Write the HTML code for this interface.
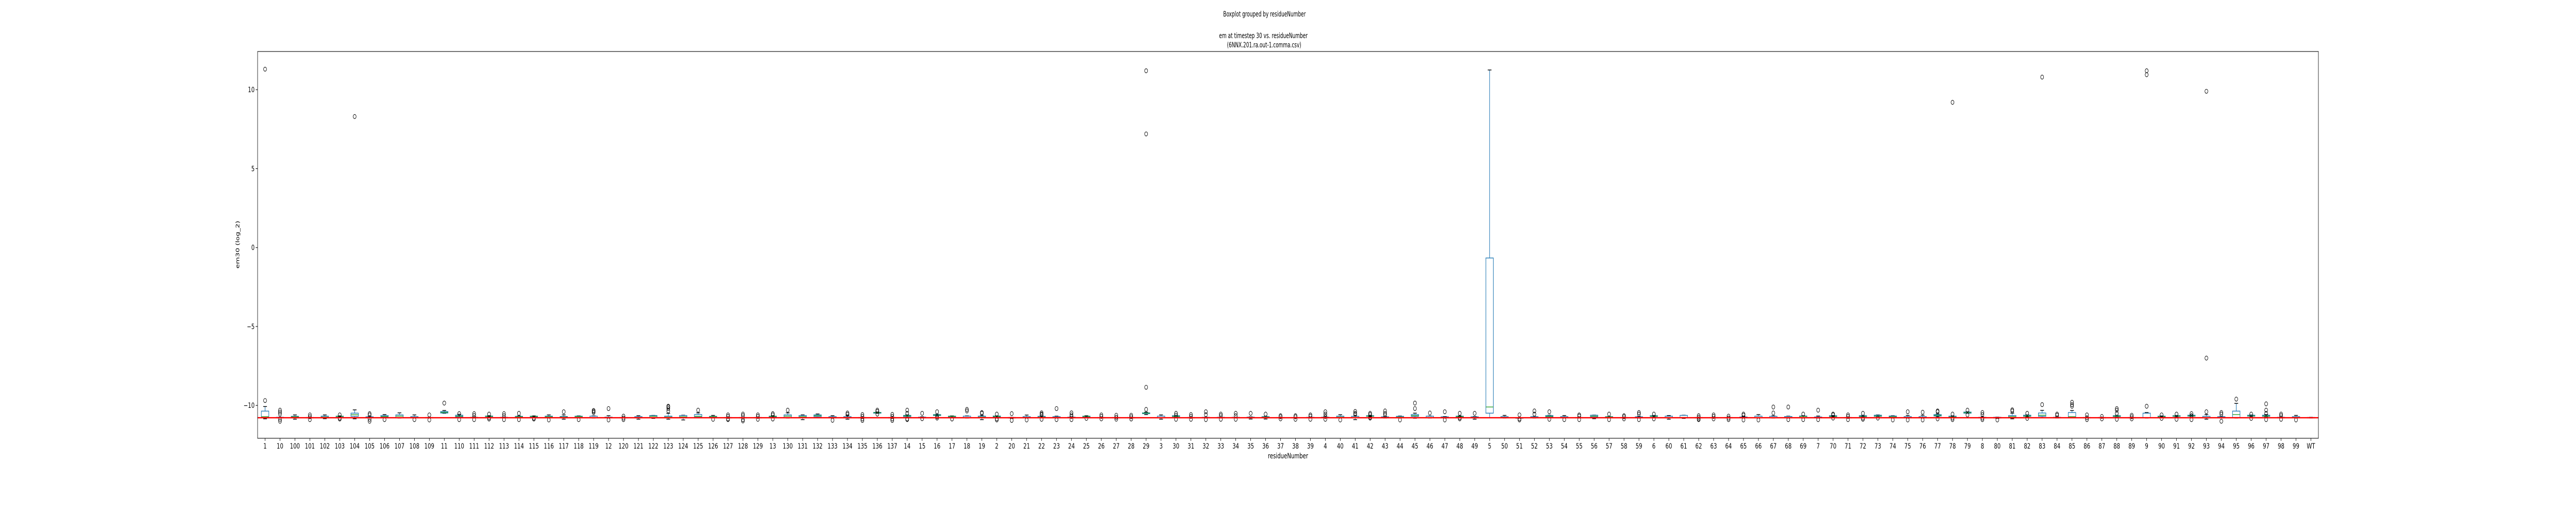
<!DOCTYPE html>
<html><head><meta charset="utf-8"><title>Boxplot grouped by residueNumber</title>
<style>
html,body{margin:0;padding:0;background:#fff;width:100%;height:100%;overflow:hidden;}
svg{display:block;font-family:"DejaVu Sans","Liberation Sans",sans-serif;width:100vw;height:100vh;}
</style></head>
<body>
<svg id="chart" viewBox="0 0 6900 1000" preserveAspectRatio="none" xmlns="http://www.w3.org/2000/svg">
<rect x="0" y="0" width="6900" height="1000" fill="#fff"/>
<text x="3387" y="32" font-size="14" text-anchor="middle" textLength="221" lengthAdjust="spacingAndGlyphs">Boxplot grouped by residueNumber</text>
<text x="3384" y="74" font-size="14" text-anchor="middle" textLength="237" lengthAdjust="spacingAndGlyphs">em at timestep 30 vs. residueNumber</text>
<text x="3386" y="92" font-size="14" text-anchor="middle" textLength="199" lengthAdjust="spacingAndGlyphs">(6NNX.201.ra.out-1.comma.csv)</text>
<g id="plot"></g>
<text x="3450" y="890" font-size="14" text-anchor="middle">residueNumber</text>
<text x="0" y="0" font-size="14" text-anchor="middle" transform="translate(641,475) rotate(-90)">em30 (log_2)</text>
</svg>
<script>
const categories = ["1","10","100","101","102","103","104","105","106","107","108","109","11","110","111","112","113","114","115","116","117","118","119","12","120","121","122","123","124","125","126","127","128","129","13","130","131","132","133","134","135","136","137","14","15","16","17","18","19","2","20","21","22","23","24","25","26","27","28","29","3","30","31","32","33","34","35","36","37","38","39","4","40","41","42","43","44","45","46","47","48","49","5","50","51","52","53","54","55","56","57","58","59","6","60","61","62","63","64","65","66","67","68","69","7","70","71","72","73","74","75","76","77","78","79","8","80","81","82","83","84","85","86","87","88","89","9","90","91","92","93","94","95","96","97","98","99","WT"];
// [q1, median, q3, whiskerLow, whiskerHigh]
const boxStats = [
[-10.76,-10.71,-10.36,-10.85,-10.07],[-10.79,-10.77,-10.75,-10.8,-10.74],[-10.76,-10.72,-10.69,-10.87,-10.6],[-10.79,-10.77,-10.76,-10.8,-10.75],[-10.76,-10.74,-10.68,-10.84,-10.6],
[-10.71,-10.69,-10.68,-10.72,-10.66],[-10.69,-10.59,-10.49,-10.85,-10.28],[-10.78,-10.76,-10.72,-10.8,-10.7],[-10.72,-10.7,-10.64,-10.76,-10.58],[-10.78,-10.68,-10.6,-10.8,-10.47],
[-10.78,-10.76,-10.71,-10.8,-10.6],[-10.79,-10.77,-10.76,-10.8,-10.75],[-10.48,-10.44,-10.39,-10.5,-10.32],[-10.72,-10.68,-10.62,-10.76,-10.56],[-10.79,-10.76,-10.75,-10.8,-10.72],
[-10.71,-10.69,-10.67,-10.73,-10.65],[-10.79,-10.77,-10.75,-10.8,-10.73],[-10.76,-10.72,-10.69,-10.78,-10.66],[-10.72,-10.69,-10.68,-10.76,-10.66],[-10.76,-10.72,-10.68,-10.78,-10.6],
[-10.78,-10.74,-10.7,-10.87,-10.6],[-10.75,-10.7,-10.68,-10.76,-10.66],[-10.78,-10.77,-10.68,-10.8,-10.66],[-10.78,-10.76,-10.74,-10.8,-10.65],[-10.79,-10.77,-10.76,-10.8,-10.75],
[-10.78,-10.76,-10.71,-10.87,-10.65],[-10.78,-10.69,-10.64,-10.82,-10.63],[-10.76,-10.74,-10.68,-10.87,-10.5],[-10.76,-10.72,-10.64,-10.92,-10.62],[-10.74,-10.69,-10.58,-10.76,-10.47],
[-10.72,-10.7,-10.69,-10.76,-10.63],[-10.79,-10.77,-10.76,-10.8,-10.75],[-10.79,-10.77,-10.76,-10.8,-10.75],[-10.79,-10.77,-10.76,-10.8,-10.75],[-10.72,-10.69,-10.68,-10.75,-10.66],
[-10.76,-10.68,-10.6,-10.8,-10.47],[-10.76,-10.71,-10.64,-10.9,-10.6],[-10.71,-10.65,-10.6,-10.76,-10.54],[-10.78,-10.76,-10.71,-10.8,-10.65],[-10.78,-10.76,-10.71,-10.87,-10.63],
[-10.79,-10.77,-10.76,-10.8,-10.75],[-10.49,-10.46,-10.44,-10.5,-10.42],[-10.79,-10.77,-10.76,-10.8,-10.75],[-10.71,-10.66,-10.63,-10.73,-10.6],[-10.78,-10.77,-10.74,-10.8,-10.72],
[-10.64,-10.61,-10.58,-10.65,-10.56],[-10.72,-10.69,-10.68,-10.75,-10.66],[-10.78,-10.77,-10.68,-10.8,-10.66],[-10.76,-10.74,-10.68,-10.9,-10.65],[-10.72,-10.69,-10.67,-10.74,-10.66],
[-10.8,-10.78,-10.76,-10.82,-10.75],[-10.78,-10.76,-10.71,-10.8,-10.61],[-10.76,-10.74,-10.69,-10.78,-10.67],[-10.78,-10.76,-10.71,-10.8,-10.68],[-10.78,-10.76,-10.74,-10.8,-10.72],
[-10.72,-10.69,-10.68,-10.76,-10.65],[-10.79,-10.77,-10.76,-10.8,-10.75],[-10.79,-10.77,-10.76,-10.8,-10.75],[-10.79,-10.77,-10.76,-10.8,-10.75],[-10.52,-10.49,-10.47,-10.58,-10.43],
[-10.78,-10.77,-10.68,-10.87,-10.6],[-10.71,-10.69,-10.65,-10.73,-10.64],[-10.79,-10.77,-10.76,-10.8,-10.75],[-10.79,-10.77,-10.75,-10.8,-10.74],[-10.79,-10.77,-10.75,-10.8,-10.74],
[-10.79,-10.77,-10.75,-10.8,-10.74],[-10.78,-10.76,-10.74,-10.86,-10.72],[-10.75,-10.74,-10.71,-10.86,-10.69],[-10.79,-10.77,-10.76,-10.8,-10.75],[-10.79,-10.77,-10.76,-10.8,-10.75],
[-10.79,-10.77,-10.75,-10.8,-10.74],[-10.78,-10.76,-10.74,-10.8,-10.72],[-10.76,-10.74,-10.68,-10.78,-10.59],[-10.78,-10.76,-10.69,-10.9,-10.67],[-10.69,-10.68,-10.65,-10.72,-10.63],
[-10.78,-10.76,-10.72,-10.8,-10.7],[-10.76,-10.74,-10.69,-10.78,-10.67],[-10.69,-10.65,-10.58,-10.81,-10.49],[-10.78,-10.76,-10.68,-10.8,-10.67],[-10.78,-10.76,-10.72,-10.8,-10.7],
[-10.72,-10.7,-10.68,-10.75,-10.66],[-10.78,-10.76,-10.72,-10.87,-10.7],[-10.49,-10.1,-0.66,-10.78,11.25],[-10.78,-10.76,-10.71,-10.8,-10.63],[-10.8,-10.79,-10.78,-10.81,-10.77],
[-10.78,-10.76,-10.71,-10.8,-10.7],[-10.72,-10.69,-10.64,-10.74,-10.62],[-10.78,-10.76,-10.71,-10.8,-10.64],[-10.79,-10.77,-10.76,-10.8,-10.75],[-10.73,-10.68,-10.62,-10.84,-10.61],
[-10.76,-10.73,-10.71,-10.78,-10.7],[-10.79,-10.77,-10.76,-10.8,-10.75],[-10.78,-10.76,-10.72,-10.8,-10.7],[-10.7,-10.68,-10.65,-10.74,-10.63],[-10.78,-10.76,-10.68,-10.87,-10.64],
[-10.78,-10.76,-10.63,-10.82,-10.62],[-10.79,-10.77,-10.76,-10.8,-10.75],[-10.79,-10.77,-10.76,-10.8,-10.75],[-10.79,-10.77,-10.76,-10.8,-10.75],[-10.78,-10.77,-10.73,-10.8,-10.7],
[-10.78,-10.76,-10.68,-10.8,-10.58],[-10.78,-10.77,-10.69,-10.8,-10.66],[-10.78,-10.76,-10.7,-10.8,-10.68],[-10.78,-10.7,-10.67,-10.8,-10.65],[-10.78,-10.77,-10.73,-10.8,-10.67],
[-10.71,-10.69,-10.65,-10.73,-10.63],[-10.79,-10.77,-10.76,-10.8,-10.75],[-10.71,-10.69,-10.65,-10.73,-10.63],[-10.69,-10.67,-10.62,-10.7,-10.6],[-10.76,-10.72,-10.67,-10.78,-10.65],
[-10.78,-10.76,-10.71,-10.8,-10.63],[-10.78,-10.76,-10.71,-10.8,-10.62],[-10.67,-10.63,-10.58,-10.7,-10.55],[-10.76,-10.73,-10.68,-10.78,-10.66],[-10.49,-10.46,-10.42,-10.5,-10.4],
[-10.79,-10.77,-10.75,-10.8,-10.74],[-10.8,-10.79,-10.75,-10.82,-10.74],[-10.76,-10.71,-10.64,-10.85,-10.49],[-10.69,-10.67,-10.62,-10.72,-10.6],[-10.69,-10.62,-10.48,-10.76,-10.31],
[-10.79,-10.77,-10.75,-10.8,-10.73],[-10.76,-10.71,-10.45,-10.78,-10.32],[-10.79,-10.77,-10.76,-10.8,-10.75],[-10.79,-10.77,-10.76,-10.8,-10.75],[-10.7,-10.68,-10.65,-10.72,-10.63],
[-10.79,-10.77,-10.76,-10.8,-10.75],[-10.78,-10.77,-10.49,-10.8,-10.45],[-10.72,-10.7,-10.68,-10.74,-10.66],[-10.69,-10.67,-10.65,-10.72,-10.63],[-10.68,-10.66,-10.62,-10.7,-10.6],
[-10.78,-10.76,-10.69,-10.87,-10.58],[-10.78,-10.76,-10.71,-10.8,-10.69],[-10.76,-10.58,-10.36,-10.8,-9.87],[-10.68,-10.66,-10.62,-10.7,-10.6],[-10.69,-10.67,-10.62,-10.72,-10.58],
[-10.79,-10.77,-10.75,-10.8,-10.73],[-10.78,-10.76,-10.71,-10.8,-10.63],[-10.79,-10.78,-10.76,-10.8,-10.75]
];
const fliers = [
[-9.69,11.3],[-10.3,-10.42,-10.55,-10.88,-11.0],[],[-10.6,-10.72,-10.9],[],
[-10.6,-10.8,-10.86],[8.3],[-10.52,-10.6,-10.88,-11.0],[-10.9],[],
[-10.9],[-10.6,-10.92],[-9.85],[-10.52,-10.9],[-10.52,-10.64,-10.9],
[-10.55,-10.78,-10.86],[-10.52,-10.65,-10.9],[-10.5,-10.9],[-10.8,-10.86],[-10.92],
[-10.4],[-10.9],[-10.32,-10.38,-10.45],[-10.2,-10.92],[-10.68,-10.8,-10.9],
[],[],[-10.35,-10.2,-10.1,-10.05],[],[-10.3],
[-10.88],[-10.6,-10.7,-10.85,-10.9],[-10.55,-10.65,-10.9,-10.98],[-10.6,-10.7,-10.88],[-10.52,-10.6,-10.86],
[-10.3],[],[],[-10.94],[-10.48,-10.56],
[-10.58,-10.7,-10.85,-10.95],[-10.3,-10.38,-10.55],[-10.57,-10.7,-10.85,-10.95],[-10.3,-10.5,-10.85,-10.9],[-10.5,-10.84],
[-10.4,-10.72,-10.8],[-10.86],[-10.25,-10.35],[-10.45,-10.5],[-10.55,-10.85,-10.92],
[-10.52,-10.95],[-10.92],[-10.47,-10.55,-10.6,-10.88],[-10.2,-10.9],[-10.47,-10.6,-10.7,-10.9],
[-10.82],[-10.6,-10.7,-10.85],[-10.62,-10.75,-10.87],[-10.62,-10.72,-10.86],[-10.25,-8.85,7.2,11.2],
[],[-10.5,-10.62,-10.88],[-10.58,-10.7,-10.88],[-10.4,-10.58,-10.9],[-10.55,-10.65,-10.88],
[-10.5,-10.65,-10.88],[-10.5],[-10.55],[-10.65,-10.72,-10.85],[-10.65,-10.72,-10.88],
[-10.6,-10.68,-10.88],[-10.4,-10.55,-10.7,-10.88],[-10.92],[-10.38,-10.5,-10.56],[-10.5,-10.58,-10.75,-10.8],
[-10.35,-10.5,-10.6],[-10.92],[-10.2,-9.85],[-10.48],[-10.4,-10.92],
[-10.5,-10.78,-10.85],[-10.5],[],[],[-10.6,-10.85,-10.92],
[-10.35,-10.55],[-10.4,-10.88],[-10.9],[-10.6,-10.67,-10.9],[],
[-10.55,-10.9],[-10.65,-10.72,-10.85],[-10.45,-10.55,-10.9],[-10.55,-10.85],[],
[],[-10.65,-10.75,-10.85,-10.9],[-10.6,-10.7,-10.85],[-10.68,-10.8,-10.9],[-10.55,-10.62,-10.92],
[-10.92],[-10.48,-10.1],[-10.1,-10.9],[-10.55,-10.9],[-10.3,-10.9],
[-10.55,-10.6,-10.8],[-10.6,-10.7,-10.9],[-10.5,-10.8,-10.88],[-10.8],[-10.92],
[-10.4,-10.92],[-10.43,-10.92],[-10.35,-10.4,-10.85],[-10.55,-10.8,-10.9,9.2],[-10.3,-10.6],
[-10.45,-10.58,-10.8,-10.9],[-10.92],[-10.28,-10.35],[-10.5,-10.82],[-9.95,10.8],
[-10.55,-10.62],[-9.8,-9.95,-10.05],[-10.6,-10.78,-10.9],[-10.7,-10.85],[-10.2,-10.3,-10.5,-10.88],
[-10.62,-10.72,-10.85],[-10.05,10.95,11.2],[-10.6,-10.82],[-10.55,-10.88],[-10.52,-10.65,-10.9],
[-10.4,-7.0,9.9],[-10.45,-10.55,-11.0],[-9.6],[-10.55,-10.82],[-9.9,-10.3,-10.5,-10.9],
[-10.55,-10.65,-10.88],[-10.92],[]
];
const yTicks = [-10,-5,0,5,10];
const yTickLabels = ["\u221210","\u22125","0","5","10"];
const referenceValue = -10.78;

const q1 = boxStats.map(r => r[0]);
const medians = boxStats.map(r => r[1]);
const q3 = boxStats.map(r => r[2]);
const whiskerLow = boxStats.map(r => r[3]);
const whiskerHigh = boxStats.map(r => r[4]);

(function(){
  const NS = "http://www.w3.org/2000/svg";
  const L = 690, R = 6210, T = 100, B = 851;
  const yMin = -12.08, yMax = 12.42;
  const n = categories.length;
  const xs = i => L + (i + 0.5) * (R - L) / n;
  const ys = v => B - (v - yMin) / (yMax - yMin) * (B - T);
  const g = document.getElementById('plot');
  function el(tag, attrs){ const e = document.createElementNS(NS, tag); for (const k in attrs) e.setAttribute(k, attrs[k]); g.appendChild(e); return e; }
  const boxW = 0.5 * (R - L) / n;

  yTicks.forEach((t, k) => {
    const y = ys(t);
    const tk = el('line', {x1: L - 5, x2: L, y1: y, y2: y, stroke: '#000', 'stroke-width': 1.1});
    
    
    const tx = el('text', {x: L - 8, y: y + 5, 'font-size': 14, 'text-anchor': 'end'});
    tx.textContent = yTickLabels[k];
    
    
  });
  categories.forEach((c, i) => {
    const x = xs(i);
    const tk = el('line', {x1: x, x2: x, y1: B, y2: B + 5, stroke: '#000', 'stroke-width': 1.1});
    
    
    const tx = el('text', {x: x, y: B + 20, 'font-size': 14, 'text-anchor': 'middle'});
    tx.textContent = c;
    
    
  });

  categories.forEach((c, i) => {
    const x = xs(i);
    const grp = document.createElementNS(NS, 'g');
    
    
    g.appendChild(grp);
    function add(tag, attrs){ const e = document.createElementNS(NS, tag); for (const k in attrs) e.setAttribute(k, attrs[k]); grp.appendChild(e); return e; }
    const yq1 = ys(q1[i]), yq3 = ys(q3[i]);
    add('line', {x1: x, x2: x, y1: ys(whiskerHigh[i]), y2: yq3, stroke: '#1f77b4', 'stroke-width': 1.4});
    add('line', {x1: x, x2: x, y1: yq1, y2: ys(whiskerLow[i]), stroke: '#1f77b4', 'stroke-width': 1.4});
    add('line', {x1: x - boxW/4, x2: x + boxW/4, y1: ys(whiskerHigh[i]), y2: ys(whiskerHigh[i]), stroke: '#000', 'stroke-width': 1.4});
    add('line', {x1: x - boxW/4, x2: x + boxW/4, y1: ys(whiskerLow[i]), y2: ys(whiskerLow[i]), stroke: '#000', 'stroke-width': 1.4});
    add('rect', {x: x - boxW/2, y: Math.min(yq1, yq3), width: boxW, height: Math.max(1, Math.abs(yq1 - yq3)), fill: 'none', stroke: '#1f77b4', 'stroke-width': 1.4});
    add('line', {x1: x - boxW/2, x2: x + boxW/2, y1: ys(medians[i]), y2: ys(medians[i]), stroke: '#2ca02c', 'stroke-width': 1.4});
    fliers[i].forEach(v => {
      const f = add('circle', {cx: x, cy: ys(v), r: 4, fill: 'none', stroke: '#000', 'stroke-width': 1.1});
      
      
    });
  });

  const ref = el('line', {x1: L, x2: R, y1: ys(referenceValue), y2: ys(referenceValue), stroke: '#ff0000', 'stroke-width': 2.5});
  
  

  const frame = el('rect', {x: L, y: T, width: R - L, height: B - T, fill: 'none', stroke: '#000', 'stroke-width': 1.1});
  
  
})();
</script>
</body></html>
